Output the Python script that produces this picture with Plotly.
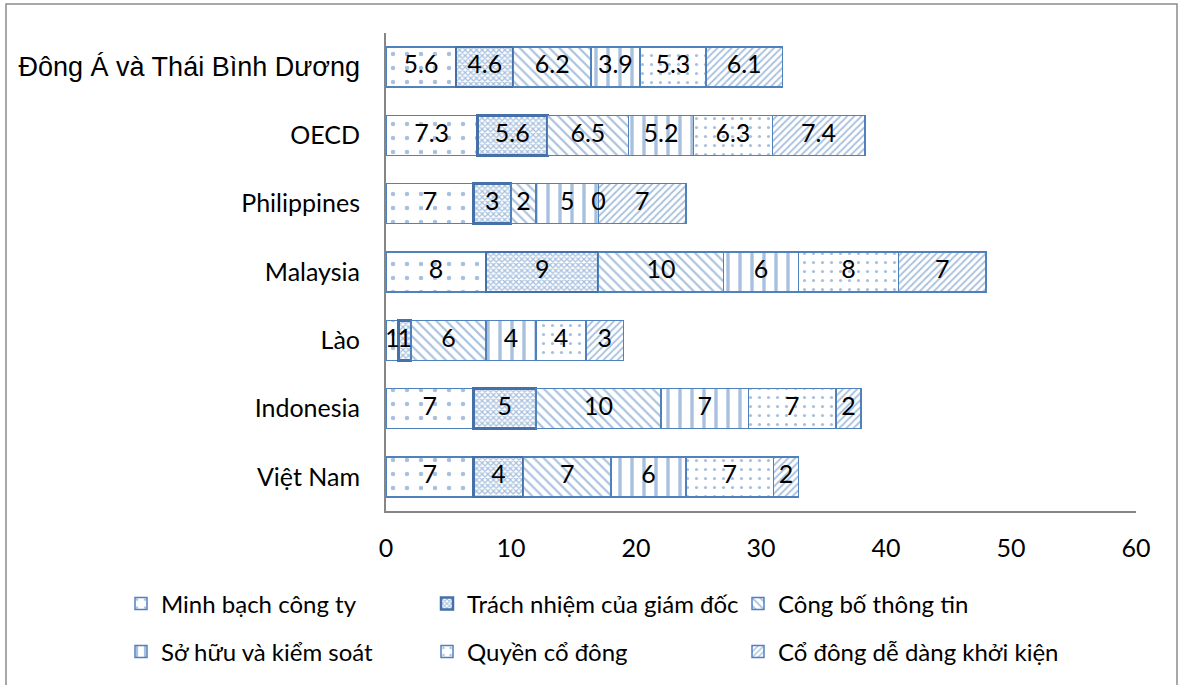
import plotly.graph_objects as go

categories = ["Việt Nam", "Indonesia", "Lào", "Malaysia", "Philippines", "OECD",
              "Đông Á và Thái Bình Dương"]

series_names = ["Minh bạch công ty", "Trách nhiệm của giám đốc", "Công bố thông tin",
                "Sở hữu và kiểm soát", "Quyền cổ đông", "Cổ đông dễ dàng khởi kiện"]

minh_bach = [7, 7, 1, 8, 7, 7.3, 5.6]
trach_nhiem = [4, 5, 1, 9, 3, 5.6, 4.6]
cong_bo = [7, 10, 6, 10, 2, 6.5, 6.2]
so_huu = [6, 7, 4, 6, 5, 5.2, 3.9]
quyen_co_dong = [7, 7, 4, 8, 0, 6.3, 5.3]
khoi_kien = [2, 2, 3, 7, 7, 7.4, 6.1]

series_values = [minh_bach, trach_nhiem, cong_bo, so_huu, quyen_co_dong, khoi_kien]

x_ticks = [0, 10, 20, 30, 40, 50, 60]

BLUE = "#4F81BD"
FONT = "Lato"
FS = 25
LEG_FS = 24

patterns = [
    dict(shape=".", size=14, solidity=0.08),
    dict(shape="x", size=4, solidity=0.55),
    dict(shape="\\", size=7, solidity=0.3),
    dict(shape="|", size=12, solidity=0.28),
    dict(shape=".", size=9, solidity=0.1),
    dict(shape="/", size=5, solidity=0.35),
]
line_colors = [BLUE, "#4570A8", BLUE, BLUE, BLUE, BLUE]
line_widths = [1.5, 2.5, 1.5, 1.5, 1.5, 1.5]

W, H = 1179, 685
L, R, T, B = 386, 43, 33, 173
pw, ph = W - L - R, H - T - B


def px_to_paper_x(px):
    return (px - L) / pw


def px_to_paper_y(py):
    return (H - B - py) / ph


# legend grid: 3 columns x 2 rows (one legend box per entry)
legend_cols_px = [121, 427, 738]
legend_rows_px = [604, 652]
legend_ids = ["legend", "legend2", "legend3", "legend4", "legend5", "legend6"]

fig = go.Figure()
for i, (name, vals) in enumerate(zip(series_names, series_values)):
    p = patterns[i]
    fig.add_trace(go.Bar(
        name=name, y=categories, x=vals, orientation="h",
        marker=dict(color="white",
                    line=dict(color=line_colors[i], width=line_widths[i]),
                    pattern=dict(shape=p["shape"], size=p["size"], solidity=p["solidity"],
                                 fgcolor=BLUE, bgcolor="white", fillmode="overlay")),
        legend=legend_ids[i],
        hoverinfo="skip",
    ))

# data labels at segment midpoints
lab_x, lab_y, lab_t = [], [], []
for ci, cat in enumerate(categories):
    cum = 0.0
    for vals in series_values:
        v = vals[ci]
        lab_x.append(cum + v / 2.0)
        lab_y.append(cat)
        lab_t.append(f"{v:g}")
        cum += v
fig.add_trace(go.Scatter(x=lab_x, y=lab_y, text=lab_t, mode="text",
                         textposition="middle center",
                         textfont=dict(family=FONT, size=FS, color="black"),
                         showlegend=False, hoverinfo="skip"))

tick_text = [c if c != "Đông Á và Thái Bình Dương" else
             '<span style="font-family:Liberation Sans;font-size:27px">' + c + '</span>'
             for c in categories]

legend_layouts = {}
for i, lid in enumerate(legend_ids):
    col, row = i % 3, i // 3
    legend_layouts[lid] = dict(
        orientation="h", x=px_to_paper_x(legend_cols_px[col]), xanchor="left",
        y=px_to_paper_y(legend_rows_px[row]), yanchor="middle",
        font=dict(family=FONT, size=LEG_FS, color="black"), bgcolor="rgba(0,0,0,0)")

fig.update_layout(
    width=W, height=H,
    margin=dict(l=L, r=R, t=T, b=B),
    barmode="stack", bargap=0.415,
    plot_bgcolor="white", paper_bgcolor="white",
    font=dict(family=FONT, size=FS, color="black"),
    xaxis=dict(range=[0, 60], tickvals=x_ticks, showgrid=False, zeroline=False,
               showline=True, linecolor="#868686", linewidth=2, ticks="",
               ticklabelstandoff=14, tickfont=dict(family=FONT, size=FS, color="black")),
    yaxis=dict(categoryorder="array", categoryarray=categories,
               tickvals=categories, ticktext=tick_text,
               showgrid=False, zeroline=False, showline=True, linecolor="#868686",
               linewidth=2, ticks="", ticklabelstandoff=19,
               tickfont=dict(family=FONT, size=FS, color="black")),
    shapes=[dict(type="rect", xref="paper", yref="paper",
                 x0=px_to_paper_x(6), x1=px_to_paper_x(1177),
                 y0=px_to_paper_y(700), y1=px_to_paper_y(4),
                 line=dict(color="#8C8C8C", width=1.5), fillcolor="rgba(0,0,0,0)",
                 layer="below")],
    **legend_layouts,
)

fig.write_html("out.html")
